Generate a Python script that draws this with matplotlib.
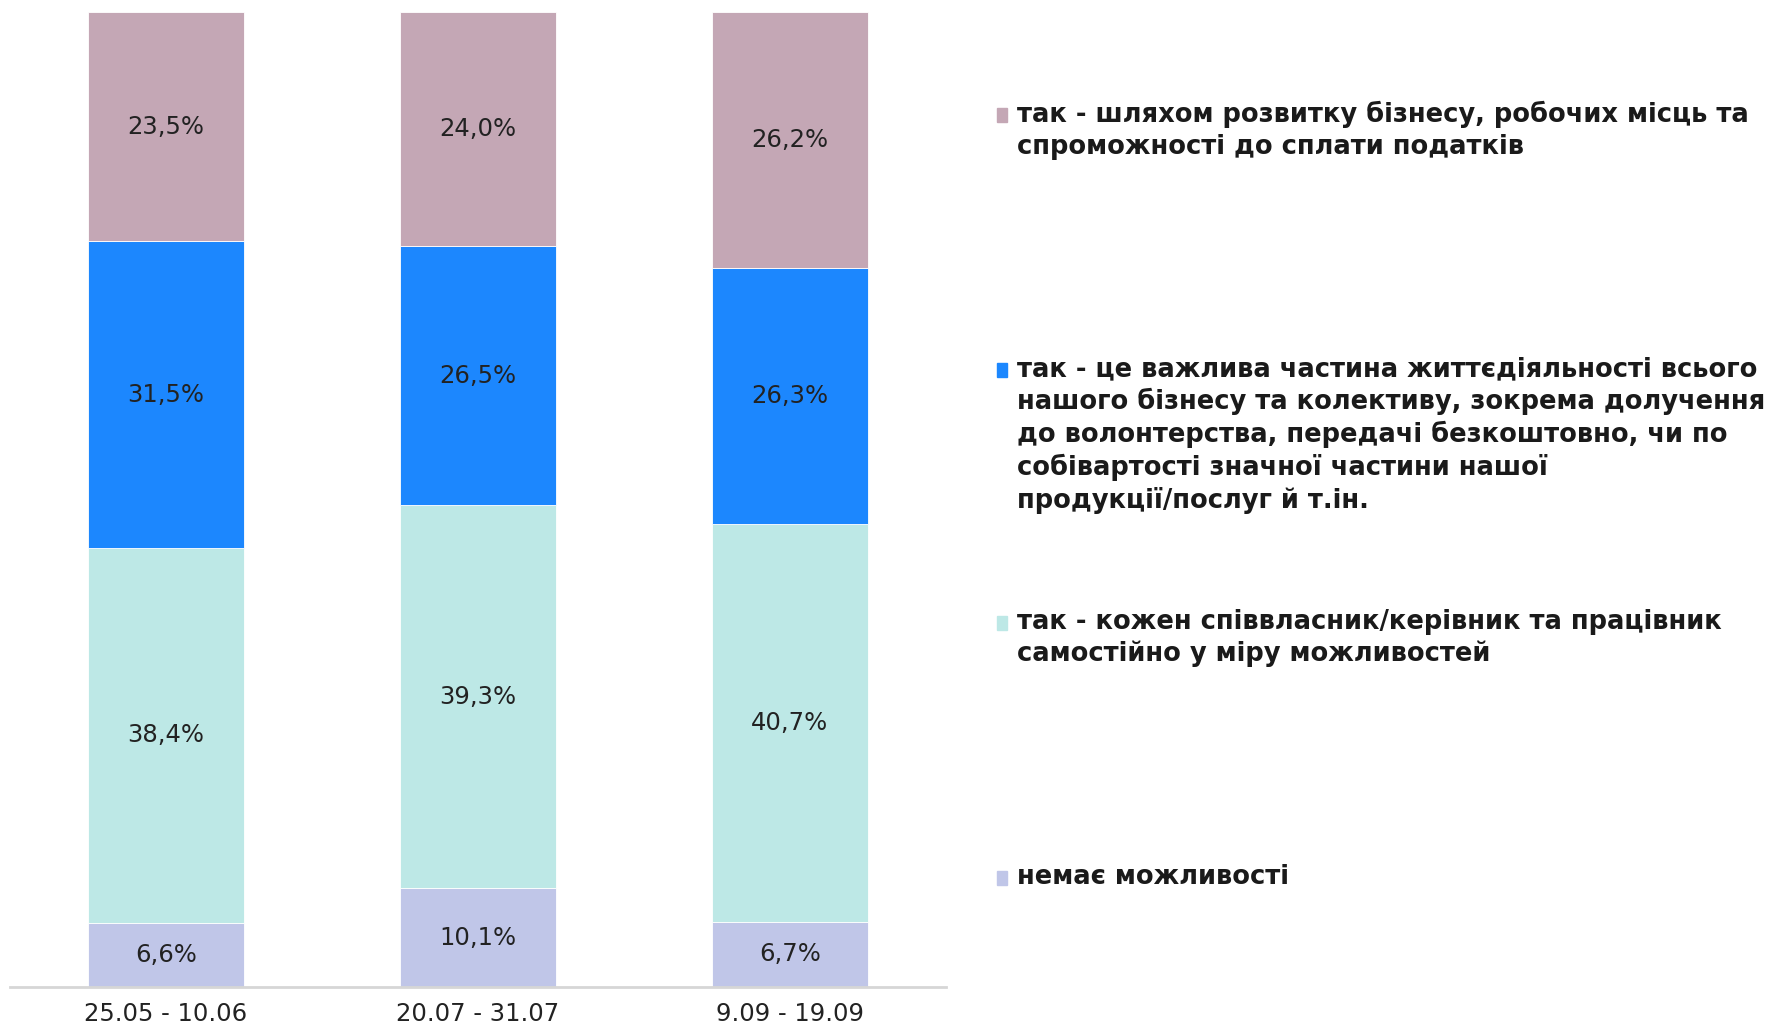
import matplotlib.pyplot as plt
from matplotlib.patches import Rectangle
import numpy as np

periods = ["25.05 - 10.06", "20.07 - 31.07", "9.09 - 19.09"]
no_chance = [6.6, 10.1, 6.7]
each_self = [38.4, 39.3, 40.7]
important_part = [31.5, 26.5, 26.3]
via_business = [23.5, 24.0, 26.2]

series = [no_chance, each_self, important_part, via_business]
colors = ["#C0C6E8", "#BDE8E6", "#1C87FE", "#C4A7B5"]
legend_labels = [
    "немає можливості",
    "так - кожен співвласник/керівник та працівник\nсамостійно у міру можливостей",
    "так - це важлива частина життєдіяльності всього\nнашого бізнесу та колективу, зокрема долучення\n"
    "до волонтерства, передачі безкоштовно, чи по\nсобівартості значної частини нашої\nпродукції/послуг й т.ін.",
    "так - шляхом розвитку бізнесу, робочих місць та\nспроможності до сплати податків",
]
legend_y = [878, 623, 370, 115]  # px from top, first line

plt.rcParams['font.family'] = ['DejaVu Sans']

W, H = 1774, 1031
fig = plt.figure(figsize=(W / 100, H / 100), dpi=100)
ax = fig.add_axes([10 / W, 44 / H, 936 / W, 975 / H])

data = np.array(series)
totals = data.sum(axis=0)
norm = data / totals * 100
x = np.arange(len(periods))
bottom = np.zeros(len(periods))
for vals, raw, c in zip(norm, data, colors):
    ax.bar(x, vals, width=0.5, bottom=bottom, color=c, edgecolor="white", linewidth=0.6)
    for xi, v, b, r in zip(x, vals, bottom, raw):
        ax.text(xi, b + v / 2, f"{r:.1f}%".replace(".", ","), ha="center", va="center",
                fontsize=17.5, color="#222222")
    bottom += vals

ax.set_xlim(-0.5, 2.5)
ax.set_ylim(0, 100)
ax.set_xticks(x)
ax.set_xticklabels(periods, fontsize=17.5, color="#222222")
ax.tick_params(axis="x", length=0, pad=11)
ax.set_yticks([])
for s in ["top", "right", "left"]:
    ax.spines[s].set_visible(False)
ax.spines["bottom"].set_color("#D6D6D6")
ax.spines["bottom"].set_linewidth(2)

for lab, c, y in zip(legend_labels, colors, legend_y):
    fig.patches.append(Rectangle((997 / W, 1 - (y + 7) / H), 10 / W, 14 / H,
                                 transform=fig.transFigure, color=c))
    fig.text(1017 / W, 1 - (y - 14) / H, lab, ha="left", va="top", fontsize=18.5,
             fontweight="bold", color="#1a1a1a", linespacing=1.28)

fig.savefig("out.png", dpi=100, facecolor="white")
